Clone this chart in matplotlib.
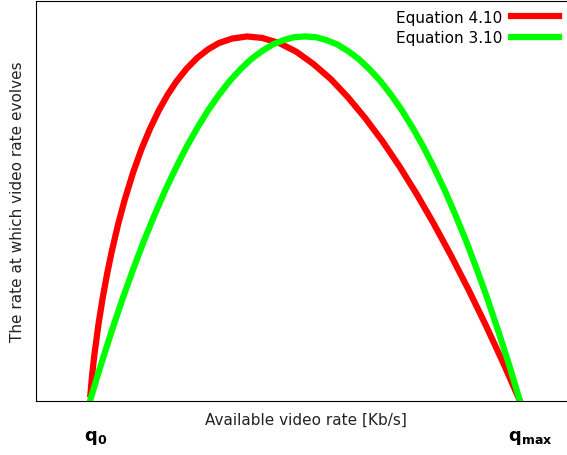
import matplotlib
matplotlib.use('Agg')
import matplotlib.pyplot as plt

# normalised rate between q0 (0) and qmax (1)
eq410_x = [0.001, 0.005, 0.01, 0.02, 0.03, 0.04, 0.05, 0.065, 0.08, 0.10,
           0.12, 0.14, 0.16, 0.18, 0.20, 0.225, 0.25, 0.275, 0.30, 0.33,
           0.365, 0.40, 0.44, 0.48, 0.52, 0.56, 0.60, 0.64, 0.68, 0.72,
           0.76, 0.80, 0.84, 0.88, 0.92, 0.96, 1.0]
eq410_y = [0.019, 0.072, 0.125, 0.213, 0.286, 0.350, 0.407, 0.483, 0.549, 0.626,
           0.692, 0.748, 0.797, 0.839, 0.875, 0.912, 0.942, 0.965, 0.982, 0.994,
           1.000, 0.996, 0.982, 0.958, 0.924, 0.883, 0.833, 0.776, 0.713, 0.643,
           0.567, 0.485, 0.398, 0.306, 0.209, 0.107, 0.0]

eq310_x = [0.0, 0.025, 0.05, 0.075, 0.10, 0.125, 0.15, 0.175, 0.20, 0.225,
           0.25, 0.275, 0.30, 0.325, 0.35, 0.375, 0.40, 0.425, 0.45, 0.475,
           0.50, 0.525, 0.55, 0.575, 0.60, 0.625, 0.65, 0.675, 0.70, 0.725,
           0.75, 0.775, 0.80, 0.825, 0.85, 0.875, 0.90, 0.925, 0.95, 0.975, 1.0]
eq310_y = [0.0, 0.098, 0.190, 0.278, 0.360, 0.438, 0.510, 0.578, 0.640, 0.698,
           0.750, 0.798, 0.840, 0.878, 0.910, 0.938, 0.960, 0.978, 0.990, 0.998,
           1.000, 0.998, 0.990, 0.978, 0.960, 0.938, 0.910, 0.878, 0.840, 0.798,
           0.750, 0.698, 0.640, 0.578, 0.510, 0.438, 0.360, 0.278, 0.190, 0.098, 0.0]

fig = plt.figure(figsize=(5.67, 4.56), dpi=100)
W, H = 567.0, 456.0
ax = fig.add_axes([36 / W, 54 / H, (600 - 36) / W, (402 - 1.5) / H])

ax.plot(eq410_x, eq410_y, color='#ff0000', lw=4.5, label='Equation 4.10')
ax.plot(eq310_x, eq310_y, color='#00ff00', lw=4.5, label='Equation 3.10')

# q0 sits at x=90 px, qmax at x=520 px in the original
ax.set_xlim(-(90 - 36) / 430.0, 1 + (600 - 520) / 430.0)
ax.set_ylim(0, 401 / 365.0)

ax.set_xticks([])
ax.set_yticks([])
ax.set_xlabel('Available video rate [Kb/s]', fontsize=11, color='#222222')
ax.xaxis.set_label_coords(0.478, -0.026)
ax.set_ylabel('The rate at which video rate evolves', fontsize=11, color='#222222', labelpad=8)

ax.text(0.012, -0.1, r'$\mathbf{q_0}$', fontsize=13, ha='center', va='center')
ax.text(1.025, -0.1, r'$\mathbf{q_{max}}$', fontsize=13, ha='center', va='center')

fig.legend(loc='upper right', bbox_to_anchor=(568 / W, 0.997), frameon=False,
           markerfirst=False, fontsize=11, handlelength=3.1, labelspacing=0.35,
           handletextpad=0.6, borderaxespad=0.2)

fig.savefig('out.png', dpi=100)
